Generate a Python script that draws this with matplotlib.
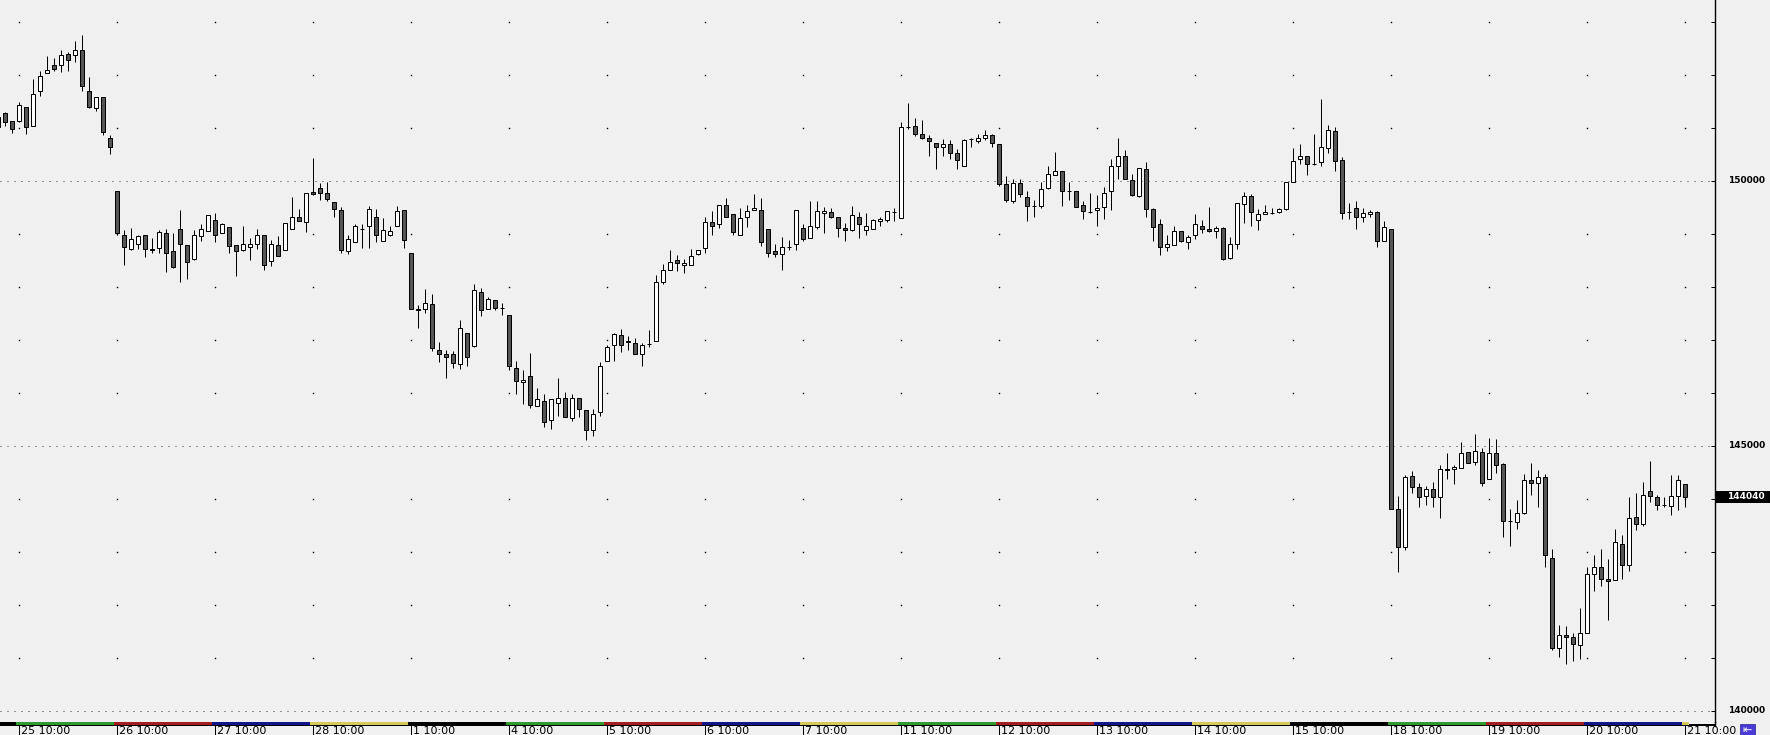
import matplotlib

matplotlib.use("Agg")
import matplotlib.pyplot as plt
from matplotlib.patches import Rectangle

# hourly candles, 14 per session, index 0..241 (first three are from the 22nd)
opens = [151020, 151280, 151130, 151130, 151390, 151030, 151690, 152040, 152180, 152180,
         152390, 152370, 152480, 151690, 151370, 151580, 150820, 149810, 148990, 148720,
         148820, 148980, 148720, 148730, 149010, 148670, 149090, 148790, 148530, 148960,
         149050, 149260, 149010, 149130, 148790, 148690, 148750, 148820, 148990, 148490,
         148790, 148690, 149090, 149330, 149220, 149790, 149860, 149770, 149600, 149450,
         148670, 148840, 149090, 149150, 149330, 148860, 148990, 149150, 149450, 148650,
         147580, 147580, 147670, 146820, 146730, 146730, 146540, 147130, 146890, 147900,
         147580, 147750, 147600, 147470, 146470, 146200, 146330, 145750, 145840, 145490,
         145810, 145900, 145520, 145900, 145670, 145300, 145640, 146600, 146900, 147090,
         146980, 146940, 146730, 146920, 146980, 148090, 148330, 148500, 148410, 148410,
         148620, 148730, 149220, 149180, 149540, 149370, 148990, 149320, 149450, 149450,
         149090, 148670, 148620, 148750, 148810, 149110, 148920, 149130, 149390, 149410,
         149320, 149110, 149070, 149330, 149070, 149090, 149240, 149260, 149410, 149300,
         151010, 151030, 150880, 150810, 150710, 150650, 150690, 150520, 150280, 150790,
         150750, 150810, 150860, 150690, 149940, 149620, 149960, 149690, 149520, 149520,
         149860, 150110, 150180, 149820, 149820, 149540, 149420, 149450, 149500, 149810,
         150280, 150470, 150010, 149710, 150220, 149470, 149180, 148750, 148790, 149050,
         148840, 148990, 149160, 149090, 149050, 149110, 148540, 148810, 149560, 149710,
         149260, 149370, 149390, 149410, 149470, 149990, 150410, 150470, 150330, 150350,
         150620, 150940, 150390, 149410, 149490, 149320, 149370, 149410, 148860, 149090,
         143810, 143090, 144430, 144220, 144050, 144180, 144030, 144560, 144560, 144580,
         144880, 144690, 144880, 144370, 144860, 144660, 143580, 143560, 143730, 144350,
         144300, 144410, 142880, 141180, 141430, 141390, 141240, 141470, 142580, 142710,
         142490, 142470, 143160, 142750, 143660, 143520, 144150, 144030, 143880, 143860,
         144050, 144280]
highs = [151280, 151300, 151140, 151490, 151400, 151920, 152080, 152360, 152320, 152470,
         152440, 152640, 152750, 151960, 151590, 151590, 150870, 149820, 149080, 149110,
         148990, 148980, 148920, 149080, 149090, 149010, 149450, 148790, 149080, 149190,
         149350, 149390, 149200, 149130, 148790, 149160, 148920, 149090, 148990, 148880,
         148960, 149200, 149690, 149470, 149770, 150430, 149960, 149990, 149600, 149500,
         148990, 149180, 149180, 149520, 149470, 149300, 149160, 149520, 149450, 148650,
         147660, 147960, 147860, 146960, 146810, 146790, 147370, 147130, 148050, 147990,
         147810, 147750, 147690, 147470, 146600, 146430, 146750, 146090, 145990, 145880,
         146280, 146010, 145990, 145900, 145670, 145690, 146580, 146900, 147130, 147200,
         147070, 147030, 146940, 147180, 148220, 148430, 148690, 148600, 148520, 148710,
         148690, 149330, 149430, 149540, 149670, 149370, 149490, 149540, 149750, 149670,
         149090, 148810, 148940, 148880, 149450, 149180, 149620, 149620, 149500, 149490,
         149320, 149200, 149520, 149410, 149390, 149280, 149320, 149430, 149490, 151110,
         151480, 151180, 151150, 150860, 150710, 150790, 150770, 150600, 150790, 150820,
         150880, 150960, 150880, 150690, 150090, 150030, 150030, 149810, 149640, 149990,
         150280, 150540, 150180, 149990, 149820, 149620, 149770, 149730, 149880, 150410,
         150820, 150580, 150130, 150240, 150350, 149490, 149280, 148980, 149150, 149050,
         148990, 149370, 149260, 149500, 149150, 149130, 148940, 149580, 149790, 149750,
         149470, 149540, 149490, 149490, 149990, 150620, 150690, 150470, 150880, 151540,
         151050, 151010, 150450, 149580, 149620, 149490, 149450, 149430, 149240, 149090,
         144050, 144450, 144520, 144300, 144240, 144330, 144640, 144860, 144640, 145070,
         144880, 145220, 144960, 145160, 145130, 144670, 143820, 143980, 144470, 144670,
         144540, 144480, 143050, 141620, 141600, 141470, 141940, 142710, 142940, 143050,
         142860, 143430, 143320, 144030, 144110, 144330, 144710, 144070, 144030, 144450,
         144450, 144280]
lows = [150770, 151040, 150900, 151120, 150880, 151030, 151610, 152030, 152080, 152050,
        152080, 152250, 151700, 151370, 151330, 150860, 150500, 148990, 148420, 148690,
        148720, 148570, 148650, 148650, 148290, 148360, 148100, 148160, 148500, 148870,
        149050, 148850, 149010, 148650, 148210, 148670, 148500, 148710, 148320, 148400,
        148580, 148690, 149090, 149240, 149030, 149730, 149640, 149620, 149320, 148650,
        148620, 148840, 148730, 148730, 148840, 148860, 148960, 149150, 148730, 147580,
        147230, 147500, 146800, 146580, 146280, 146470, 146450, 146500, 146860, 147450,
        147580, 147560, 147470, 146430, 145990, 145790, 145710, 145750, 145360, 145330,
        145570, 145540, 145470, 145550, 145110, 145180, 145560, 146600, 146600, 146770,
        146810, 146730, 146500, 146860, 146980, 148050, 148320, 148300, 148260, 148410,
        148600, 148640, 148990, 149110, 149320, 148990, 148990, 149130, 149450, 148770,
        148560, 148560, 148320, 148690, 148690, 148860, 148920, 149090, 149010, 149300,
        148940, 148860, 149050, 148920, 148990, 149090, 149150, 149220, 149240, 149300,
        150980, 150840, 150790, 150480, 150220, 150480, 150410, 150220, 150280, 150650,
        150710, 150770, 150640, 149900, 149600, 149580, 149690, 149240, 149320, 149490,
        149840, 150110, 149520, 149640, 149500, 149280, 149390, 149160, 149280, 149450,
        150030, 150030, 149710, 149690, 149320, 148860, 148600, 148670, 148790, 148840,
        148710, 148900, 149010, 149030, 148920, 148500, 148520, 148710, 149200, 149150,
        149070, 149370, 149370, 149390, 149450, 149990, 150330, 150110, 150310, 150280,
        150520, 150180, 149280, 149280, 149090, 149220, 149320, 148750, 148860, 143810,
        142630, 143030, 144110, 143840, 143880, 143840, 143640, 144370, 144280, 144580,
        144670, 144640, 144240, 144370, 144490, 143280, 143110, 143430, 143710, 144070,
        143840, 142720, 141160, 141010, 140880, 140940, 140990, 141470, 142260, 142350,
        141710, 142470, 142490, 142650, 143410, 143490, 143940, 143790, 143840, 143690,
        143790, 143840]
closes = [151210, 151110, 150990, 151430, 151010, 151640, 151990, 152090, 152110, 152370,
          152280, 152480, 151790, 151390, 151580, 150920, 150650, 149010, 148760, 148900,
          148960, 148710, 148690, 149030, 148640, 148370, 148820, 148480, 148990, 149090,
          149350, 148990, 149180, 148770, 148670, 148810, 148820, 148990, 148410, 148810,
          148580, 149200, 149320, 149240, 149770, 149750, 149770, 149660, 149470, 148690,
          148900, 149160, 149090, 149470, 148980, 149070, 149050, 149430, 148880, 147580,
          147560, 147690, 146840, 146730, 146670, 146560, 147220, 146670, 147940, 147560,
          147770, 147600, 147600, 146500, 146220, 146240, 145770, 145880, 145450, 145880,
          145900, 145540, 145900, 145690, 145300, 145600, 146500, 146860, 147110, 146900,
          146960, 146730, 146900, 146920, 148090, 148320, 148470, 148450, 148450, 148580,
          148690, 149220, 149150, 149540, 149330, 149030, 149300, 149430, 149490, 148840,
          148640, 148620, 148750, 148750, 149450, 148900, 149150, 149430, 149430, 149330,
          149110, 149070, 149350, 149180, 149150, 149260, 149280, 149430, 149410, 151010,
          151010, 150880, 150810, 150750, 150640, 150690, 150520, 150390, 150770, 150790,
          150810, 150860, 150710, 149940, 149640, 149960, 149750, 149520, 149520, 149840,
          150130, 150180, 149810, 149820, 149500, 149430, 149410, 149490, 149770, 150280,
          150470, 150030, 149730, 150240, 149470, 149130, 148750, 148810, 149050, 148860,
          148940, 149180, 149090, 149050, 149110, 148520, 148810, 149580, 149710, 149410,
          149370, 149410, 149390, 149470, 149990, 150370, 150470, 150330, 150330, 150640,
          150960, 150370, 149390, 149410, 149320, 149390, 149410, 148860, 149130, 143810,
          143090, 144410, 144220, 144030, 144180, 144030, 144560, 144540, 144600, 144860,
          144670, 144900, 144300, 144860, 144640, 143580, 143580, 143730, 144350, 144300,
          144410, 142940, 141180, 141430, 141400, 141260, 141470, 142580, 142710, 142490,
          142450, 143180, 142750, 143640, 143520, 144070, 144050, 143880, 143880, 144050,
          144350, 144040]

day_labels = ["25 10:00", "26 10:00", "27 10:00", "28 10:00", "1 10:00", "4 10:00",
              "5 10:00", "6 10:00", "7 10:00", "11 10:00", "12 10:00", "13 10:00",
              "14 10:00", "15 10:00", "18 10:00", "19 10:00", "20 10:00", "21 10:00"]
weekdays = ["Mon", "Tue", "Wed", "Thu", "Fri", "Mon", "Tue", "Wed", "Thu", "Mon",
            "Tue", "Wed", "Thu", "Fri", "Mon", "Tue", "Wed", "Thu"]
price_labels = [140000, 145000, 150000]
last_price = 144040

FIRST_DAY = 3          # index of the 25 10:00 candle
PER_DAY = 14
day_colors = {"Mon": "#2f9a2f", "Tue": "#a31f1f", "Wed": "#14148a",
              "Thu": "#d6c85a", "Fri": "#000000"}

BG = "#f0f0f0"
W, H = 1770, 735
PLOT_R, PLOT_B = 1715, 722
PX = 7.0               # candle spacing in pixels


def k_of(px):
    return (px + 2) / PX


fig = plt.figure(figsize=(W / 100, H / 100), dpi=100, facecolor=BG)
ax = fig.add_axes([0, 1 - PLOT_B / H, PLOT_R / W, PLOT_B / H], facecolor=BG)

n = len(opens)
lw = 0.72
# wicks
ax.vlines(range(n), lows, highs, color="black", lw=lw, zorder=3)
# bodies
for i in range(n):
    o, c = opens[i], closes[i]
    fc = "white" if c >= o else "#555555"
    ax.add_patch(Rectangle((i - 0.33, min(o, c)), 0.66, abs(c - o),
                           facecolor=fc, edgecolor="black", lw=lw, zorder=4))

ax.set_xlim(k_of(0), k_of(PLOT_R))
p_top = 153415
p_per_px = 18.868
ax.set_ylim(p_top - p_per_px * PLOT_B, p_top)

# grid: dense dotted lines every 5000, sparse dots every 1000 at session starts
for p in price_labels:
    ax.axhline(p, color="#333333", lw=lw, linestyle=(0, (1, 6)), zorder=1)
day_starts = [FIRST_DAY + PER_DAY * j for j in range(len(day_labels))]
minor = [p for p in range(140000, 154000, 1000) if p % 5000]
gx = [d for d in day_starts for _ in minor]
gy = [p for _ in day_starts for p in minor]
ax.plot(gx, gy, ls="none", marker="s", markersize=1.0, markeredgewidth=0,
        color="black", zorder=1)

# right price scale
for s in ("top", "left", "bottom"):
    ax.spines[s].set_visible(False)
ax.spines["right"].set_linewidth(1.0)
ax.set_xticks([])
ax.yaxis.tick_right()
ax.set_yticks(range(140000, 154000, 1000))
ax.tick_params(axis="y", direction="in", length=3, width=lw, labelright=False)
lab_x = 1765 / PLOT_R
for p in price_labels:
    ax.text(lab_x, p, str(p), transform=ax.get_yaxis_transform(), ha="right",
            va="center", fontsize=6.5, fontweight="bold", clip_on=False)
ax.add_patch(Rectangle((1.0005, last_price - 115), 55 / PLOT_R, 230,
                       transform=ax.get_yaxis_transform(), facecolor="black",
                       edgecolor="none", clip_on=False, zorder=5))
ax.text(lab_x, last_price, str(last_price), transform=ax.get_yaxis_transform(),
        ha="right", va="center", fontsize=6.5, fontweight="bold", color="white",
        clip_on=False, zorder=6)

# time scale strip
bax = fig.add_axes([0, 0, 1, (H - PLOT_B) / H], facecolor=BG)
bax.set_xlim(k_of(0), k_of(W))
bax.set_ylim(H - PLOT_B, 0)
bax.axis("off")
bax.add_patch(Rectangle((k_of(0), 2.0), k_of(PLOT_R) - k_of(0), 2.2,
                        facecolor="black", edgecolor="none"))
bax.add_patch(Rectangle((k_of(0), 0), day_starts[0] - 0.5 - k_of(0), 2.5,
                        facecolor=day_colors["Fri"], edgecolor="none"))
for j, d in enumerate(day_starts):
    end = min(d + PER_DAY, n) - 0.5
    bax.add_patch(Rectangle((d - 0.5, 0), end - (d - 0.5), 2.5,
                            facecolor=day_colors[weekdays[j]], edgecolor="none"))
    bax.plot([d, d], [4, 13], color="black", lw=lw)
    bax.text(d + 2 / PX, 4.0, day_labels[j], ha="left", va="top", fontsize=8)
bax.plot([k_of(PLOT_R), k_of(PLOT_R)], [0, 4], color="black", lw=1.0)

# go-to-end button
bx0, bx1 = k_of(1740), k_of(1755)
bax.add_patch(Rectangle((bx0, 1.5), bx1 - bx0, 11.5, facecolor="#4b3bd6",
                        edgecolor="#2a2090", lw=0.5))
bax.text((bx0 + bx1) / 2, 7.5, "\u21e4", ha="center", va="center",
         fontsize=8, color="white")

fig.savefig("out.png", dpi=100, facecolor=BG)
